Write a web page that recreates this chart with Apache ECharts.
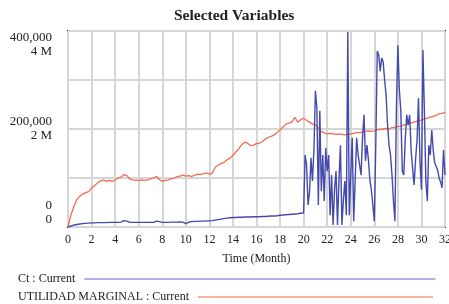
<!DOCTYPE html>
<html>
<head>
<meta charset="utf-8">
<script src="https://cdn.jsdelivr.net/npm/echarts@6/dist/echarts.min.js"></script>
<style>
  html, body { margin: 0; padding: 0; background: #fff; }
  #chart { width: 449px; height: 304px; }
</style>
</head>
<body>
<div id="chart"></div>
<script>
// Vensim style plot: Ct (left numbers) and UTILIDAD MARGINAL (M units)
const ctName = 'Ct : Current'
const umName = 'UTILIDAD MARGINAL : Current'

const monthTicks = ['0', '2', '4', '6', '8', '10', '12', '14', '16', '18', '20', '22', '24', '26', '28', '30', '32']
const yTickValues = [0, 200000, 400000]
const ctTickLabels = ['0', '200,000', '400,000']
const umTickLabels = ['0', '2 M', '4 M']

// UTILIDAD MARGINAL, millions, one value every 0.25 month (0..32)
const UM_STEP = 0.25
const umValues = [
  0, 0.25, 0.42, 0.56, 0.63, 0.67, 0.70, 0.72,
  0.80, 0.84, 0.90, 0.94, 0.96, 0.93, 0.95, 0.93,
  0.96, 1.00, 1.02, 1.07, 1.05, 0.98, 0.96, 0.95,
  0.95, 0.96, 0.95, 0.96, 0.98, 1.00, 1.03, 0.97,
  0.93, 0.95, 0.96, 0.98, 1.00, 1.03, 1.04, 1.06,
  1.04, 1.05, 1.03, 1.06, 1.08, 1.07, 1.09, 1.10,
  1.08, 1.10, 1.22, 1.26, 1.30, 1.32, 1.37, 1.41,
  1.46, 1.53, 1.60, 1.68, 1.73, 1.71, 1.66, 1.67,
  1.70, 1.71, 1.74, 1.80, 1.83, 1.85, 1.88, 1.93,
  1.98, 2.04, 2.10, 2.12, 2.14, 2.24, 2.14, 2.19,
  2.22, 2.18, 2.14, 2.10, 2.08, 2.02, 1.95, 1.92,
  1.90, 1.91, 1.90, 1.89, 1.90, 1.89, 1.88, 1.89,
  1.90, 1.91, 1.93, 1.92, 1.94, 1.95, 1.96, 1.95,
  1.96, 1.98, 1.99, 2.00, 2.01, 2.00, 2.03, 2.04,
  2.05, 2.06, 2.08, 2.10, 2.12, 2.13, 2.15, 2.17,
  2.18, 2.20, 2.22, 2.24, 2.26, 2.28, 2.31, 2.32,
  2.34
]

// Ct, one value every 0.125 month (0..32)
const CT_STEP = 0.125
const ctValues = [
  0, 1000, 2000, 3000, 4000, 4500, 5000, 5500,
  6000, 6500, 7000, 7000, 7500, 7500, 8000, 8000,
  8500, 8500, 8500, 9000, 9000, 9000, 9000, 9000,
  9000, 9000, 9000, 9000, 9500, 9500, 9500, 9500,
  9500, 9500, 9500, 9500, 10000, 11000, 13000, 14000,
  12000, 10000, 9500, 9500, 9500, 9500, 9500, 9500,
  9500, 9500, 9500, 9500, 9500, 9500, 9500, 9500,
  9500, 9500, 9500, 10000, 12000, 13000, 11000, 10000,
  9500, 9500, 9500, 9500, 9500, 10000, 10000, 10000,
  10000, 10000, 10000, 10500, 10500, 10500, 10000, 9000,
  7000, 8000, 10000, 11000, 11000, 11000, 11500, 11500,
  11500, 11500, 12000, 12000, 12000, 12000, 12500, 12500,
  12500, 13000, 13000, 13500, 14000, 14500, 15000, 15500,
  16000, 16500, 17000, 17500, 18000, 18500, 19000, 19000,
  19500, 19500, 19500, 20000, 20000, 20000, 20000, 20000,
  20500, 20500, 20500, 20500, 20500, 20500, 21000, 21000,
  21000, 21000, 21000, 21500, 21500, 21500, 21500, 22000,
  22000, 22000, 22500, 22500, 22500, 23000, 23000, 23500,
  24000, 24000, 24500, 24500, 25000, 25500, 25500, 26000,
  26000, 26500, 26500, 27000, 27000, 27500, 28000, 28500,
  29000, 147000, 127000, 45000, 71000, 141000, 94000, 157000,
  278000, 243000, 45000, 237000, 73000, 147000, 53000, 161000,
  114000, 147000, 24000, 106000, 4000, 76000, 114000, 4000,
  96000, 167000, 4000, 55000, 94000, 24000, 398000, 24000,
  106000, 182000, 12000, 96000, 182000, 147000, 127000, 106000,
  182000, 229000, 135000, 167000, 137000, 96000, 76000, 45000,
  12000, 167000, 359000, 351000, 318000, 345000, 337000, 300000,
  269000, 208000, 167000, 147000, 106000, 53000, 12000, 243000,
  371000, 280000, 237000, 114000, 106000, 178000, 229000, 208000,
  229000, 157000, 120000, 86000, 137000, 176000, 263000, 135000,
  76000, 361000, 237000, 94000, 53000, 167000, 147000, 198000,
  157000, 131000, 127000, 116000, 100000, 92000, 80000, 157000,
  106000
]

function toPairs (values, step) {
  return values.map(function (v, i) { return [i * step, v] })
}

const serif = 'Liberation Serif'
const chart = echarts.init(document.getElementById('chart'), null, { renderer: 'canvas' })

chart.setOption({
  animation: false,
  backgroundColor: '#fff',
  title: {
    text: 'Selected Variables',
    left: 169,
    top: 3,
    textStyle: {
      fontFamily: serif,
      fontSize: 15.5,
      fontWeight: 'bold',
      color: '#222'
    }
  },
  legend: [{
    data: [ctName],
    selectedMode: false,
    left: 13,
    top: 268,
    align: 'right',
    icon: 'rect',
    itemWidth: 351,
    itemHeight: 2,
    itemStyle: { color: '#aeb2e2' },
    textStyle: { fontFamily: serif, fontSize: 12, color: '#222', padding: [0, 4, 0, 0] }
  }, {
    data: [umName],
    selectedMode: false,
    left: 13,
    top: 286,
    align: 'right',
    icon: 'rect',
    itemWidth: 235,
    itemHeight: 2,
    itemStyle: { color: '#f7b2a2' },
    textStyle: { fontFamily: serif, fontSize: 12, color: '#222', padding: [0, 4, 0, 0] }
  }],
  grid: {
    left: 68,
    right: 4,
    top: 31,
    bottom: 77,
    outerBoundsMode: 'none',
    show: true,
    borderColor: '#111',
    borderWidth: 2
  },
  xAxis: {
    type: 'value',
    min: 0,
    max: 32,
    interval: 2,
    name: 'Time (Month)',
    nameLocation: 'middle',
    nameGap: 26,
    nameTextStyle: { fontFamily: serif, fontSize: 12, color: '#222' },
    axisLine: { show: false },
    axisTick: { show: false },
    axisLabel: {
      margin: 7,
      fontFamily: serif,
      fontSize: 12,
      color: '#222',
      formatter: function (v) { return monthTicks[v / 2] }
    },
    splitLine: { lineStyle: { color: '#d6d6d6', width: 2 } }
  },
  yAxis: [{
    type: 'value',
    min: 0,
    max: 400000,
    interval: 100000,
    axisLine: { show: false },
    axisTick: { show: false },
    axisLabel: {
      margin: 16,
      fontFamily: serif,
      fontSize: 13,
      lineHeight: 14,
      color: '#222',
      verticalAlignMaxLabel: 'top',
      verticalAlignMinLabel: 'bottom',
      formatter: function (v) {
        const i = yTickValues.indexOf(v)
        return i < 0 ? '' : ctTickLabels[i] + '\n' + umTickLabels[i]
      }
    },
    splitLine: { lineStyle: { color: '#d6d6d6', width: 2 } }
  }, {
    type: 'value',
    min: 0,
    max: 4,
    interval: 1,
    show: false,
    splitLine: { show: false }
  }],
  series: [{
    name: ctName,
    type: 'line',
    yAxisIndex: 0,
    showSymbol: false,
    data: toPairs(ctValues, CT_STEP),
    lineStyle: { color: '#434aac', width: 1.4 },
    itemStyle: { color: '#434aac' },
    z: 3
  }, {
    name: umName,
    type: 'line',
    yAxisIndex: 1,
    showSymbol: false,
    data: toPairs(umValues, UM_STEP),
    lineStyle: { color: '#f26c52', width: 1.3 },
    itemStyle: { color: '#f26c52' },
    z: 2
  }]
})
</script>
</body>
</html>
